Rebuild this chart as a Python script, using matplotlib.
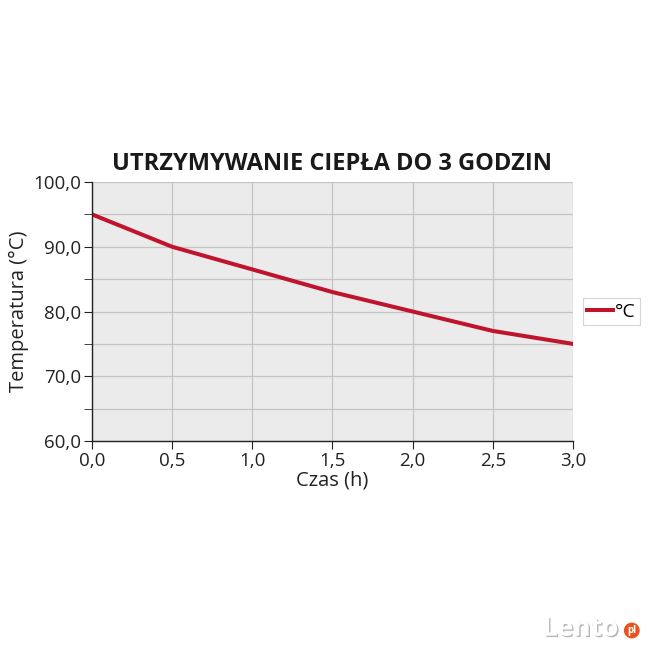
import matplotlib.pyplot as plt
import matplotlib.patheffects as pe
from matplotlib.ticker import MultipleLocator, FuncFormatter

czas = [0.0, 0.5, 1.0, 1.5, 2.0, 2.5, 3.0]
temperatura = [95.0, 90.0, 86.5, 83.0, 80.0, 77.0, 75.0]

plt.rcParams['font.family'] = ['Open Sans', 'DejaVu Sans']

fig = plt.figure(figsize=(6.5, 6.5), dpi=100)
ax = fig.add_axes([0.1415, 0.3215, 0.74, 0.3985])
ax.set_facecolor('#ebebeb')

ax.plot(czas, temperatura, color='#c0142c', lw=2.9, label='°C')

ax.set_xlim(0, 3)
ax.set_ylim(60, 100)
ax.xaxis.set_major_locator(MultipleLocator(0.5))
ax.yaxis.set_major_locator(MultipleLocator(10))
ax.yaxis.set_minor_locator(MultipleLocator(5))
fmt = FuncFormatter(lambda v, p: f'{v:.1f}'.replace('.', ','))
ax.xaxis.set_major_formatter(fmt)
ax.yaxis.set_major_formatter(fmt)

ax.grid(True, which='both', color='#c4c4c4', lw=0.9)
ax.set_axisbelow(True)
for s in ['top', 'right']:
    ax.spines[s].set_visible(False)
for s in ['left', 'bottom']:
    ax.spines[s].set_color('#222222')
    ax.spines[s].set_linewidth(1.0)
ax.tick_params(which='both', direction='out', length=6, color='#222222',
               labelsize=13.5, labelcolor='#222222', pad=2)

ax.set_xlabel('Czas (h)', fontsize=14.5, color='#222222', labelpad=0)
ax.set_ylabel('Temperatura (°C)', fontsize=14.5, color='#222222', labelpad=3)
ax.set_title('UTRZYMYWANIE CIEPŁA DO 3 GODZIN', fontsize=17,
             fontweight='bold', color='#1a1a1a', pad=9)

leg = ax.legend(loc='center left', bbox_to_anchor=(1.02, 0.5), fontsize=14,
                frameon=True, fancybox=False, handlelength=1.35,
                handletextpad=0.1, borderpad=0.22, borderaxespad=0)
leg.get_frame().set_edgecolor('#cccccc')
leg.get_frame().set_linewidth(0.8)

fig.text(0.835, 0.022, 'Lento', fontsize=19, fontweight='bold', color='white',
         path_effects=[pe.withSimplePatchShadow(offset=(1, -1),
                                                shadow_rgbFace='#888888', alpha=0.6)])
fig.text(0.972, 0.03, 'pl', fontsize=7, fontweight='bold', color='white',
         ha='center', va='center',
         bbox=dict(boxstyle='circle,pad=0.25', fc='#e8541e', ec='none'))

fig.savefig('out.png', dpi=100)
